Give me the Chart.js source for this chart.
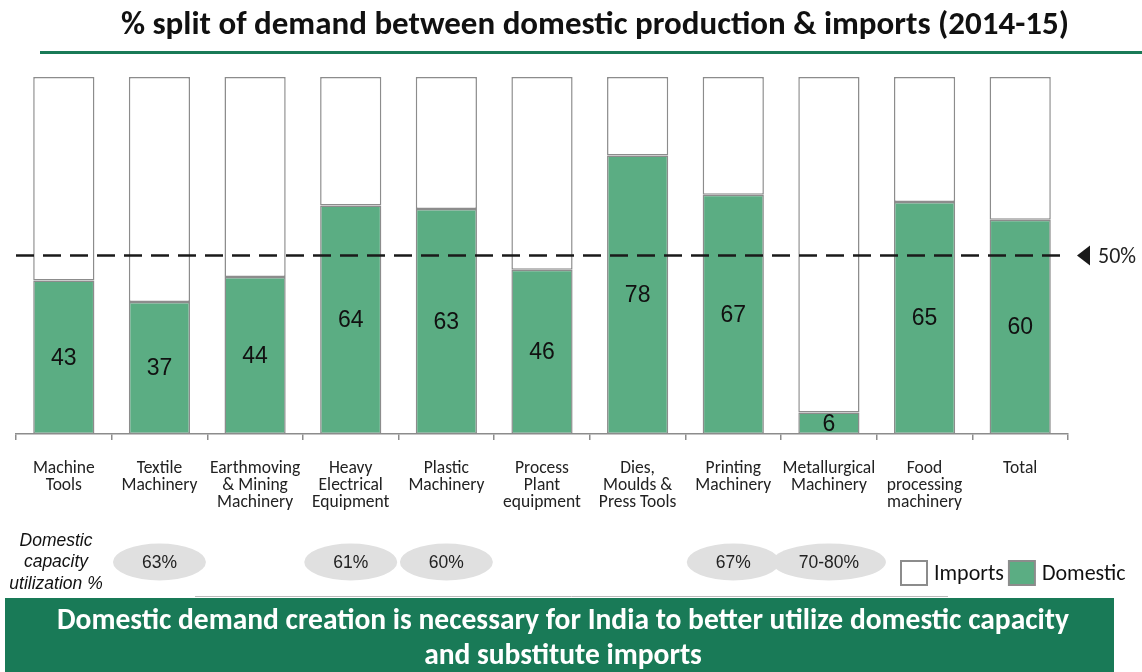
<!DOCTYPE html>
<html><head><meta charset="utf-8">
<script src="https://cdn.jsdelivr.net/npm/chart.js@4.4.1/dist/chart.umd.min.js"></script>
<style>html,body{margin:0;padding:0;background:#fff;overflow:hidden}#wrap{position:relative;width:1142px;height:672px}</style>
</head><body><div id="wrap"><canvas id="c" width="1142" height="672"></canvas></div>
<script>
const chartTitle = '% split of demand between domestic production & imports (2014-15)';
const categories = [['Machine','Tools'],['Textile','Machinery'],['Earthmoving','& Mining','Machinery'],['Heavy','Electrical','Equipment'],['Plastic','Machinery'],['Process','Plant','equipment'],['Dies,','Moulds &','Press Tools'],['Printing','Machinery'],['Metallurgical','Machinery'],['Food','processing','machinery'],['Total']];
const domestic = [43,37,44,64,63,46,78,67,6,65,60];
const imports = [57,63,56,36,37,54,22,33,94,35,40];
const capacityUtil = ['','63%','','61%','60%','','','67%','70-80%','',''];
const capacityTitle = ['Domestic','capacity','utilization %'];
const referenceValue = 50;
const referenceLabel = '50%';
const bannerLines = ['Domestic demand creation is necessary for India to better utilize domestic capacity','and substitute imports'];

const CAL = "Carlito, 'Liberation Sans Narrow', 'Open Sans', sans-serif";
const ARI = "'Liberation Sans', Arial, sans-serif";
const GREEN = '#5bad83';
const DARK = '#197a57';
const EDGE = '#8c8c8c';

const extras = {
  id: 'extras',
  afterDatasetsDraw(chart) {
    const ctx = chart.ctx, ca = chart.chartArea, ys = chart.scales.y;
    ctx.save();
    const meta = chart.getDatasetMeta(0);
    ctx.fillStyle = '#111';
    ctx.font = "23px " + ARI;
    ctx.textAlign = 'center'; ctx.textBaseline = 'middle';
    meta.data.forEach((b, i) => {
      ctx.fillText(String(domestic[i]), b.x, (b.y + b.base) / 2 + 1);
    });
    const yr = ys.getPixelForValue(referenceValue);
    ctx.strokeStyle = '#1a1a1a'; ctx.lineWidth = 2.5; ctx.setLineDash([18, 9]);
    ctx.beginPath(); ctx.moveTo(ca.left, yr); ctx.lineTo(ca.right - 3, yr); ctx.stroke();
    ctx.setLineDash([]);
    ctx.fillStyle = '#1a1a1a';
    ctx.beginPath(); ctx.moveTo(ca.right + 9, yr); ctx.lineTo(ca.right + 22, yr - 10); ctx.lineTo(ca.right + 22, yr + 10); ctx.closePath(); ctx.fill();
    ctx.fillStyle = '#222'; ctx.font = "22px " + CAL; ctx.textAlign = 'left';
    ctx.fillText(referenceLabel, ca.right + 30, yr + 2);
    ctx.restore();
  },
  afterDraw(chart) {
    const ctx = chart.ctx, xs = chart.scales.x;
    ctx.save();
    ctx.fillStyle = '#111'; ctx.font = "bold 33px " + CAL;
    ctx.textAlign = 'center'; ctx.textBaseline = 'middle';
    ctx.fillText(chartTitle, 595, 26);
    ctx.fillStyle = DARK; ctx.fillRect(40, 51, 1102, 3);
    ctx.fillStyle = '#111'; ctx.font = "italic 17.5px " + ARI;
    capacityTitle.forEach((t, i) => ctx.fillText(t, 56, 541 + i * 21.5));
    capacityUtil.forEach((t, i) => {
      if (!t) return;
      const cx = xs.getPixelForValue(i), cy = 562;
      const rx = t.length > 4 ? 57 : 46.5;
      ctx.fillStyle = '#e0e0e0';
      ctx.beginPath(); ctx.ellipse(cx, cy, rx, 18.5, 0, 0, Math.PI * 2); ctx.fill();
      ctx.fillStyle = '#222'; ctx.font = "17.5px " + ARI;
      ctx.fillText(t, cx, cy + 1);
    });
    const ds = chart.data.datasets;
    const items = [ds[1], ds[0]];
    let lx = 901;
    ctx.font = "22px " + CAL; ctx.textAlign = 'left';
    items.forEach(d => {
      ctx.fillStyle = d.backgroundColor; ctx.fillRect(lx, 561, 26, 24);
      ctx.strokeStyle = EDGE; ctx.lineWidth = 2; ctx.strokeRect(lx, 561, 26, 24);
      ctx.fillStyle = '#111'; ctx.fillText(d.label, lx + 33, 574);
      lx += 33 + ctx.measureText(d.label).width + 5;
    });
    ctx.strokeStyle = '#bbbbbb'; ctx.lineWidth = 1;
    ctx.beginPath(); ctx.moveTo(195, 596.5); ctx.lineTo(948, 596.5); ctx.stroke();
    ctx.fillStyle = DARK; ctx.fillRect(5, 598, 1109, 74);
    ctx.fillStyle = '#ffffff'; ctx.font = "bold 29.5px " + CAL; ctx.textAlign = 'center';
    ctx.fillText(bannerLines[0], 563, 622);
    ctx.fillText(bannerLines[1], 563, 657);
    ctx.restore();
  }
};

new Chart(document.getElementById('c'), {
  type: 'bar',
  data: {
    labels: categories,
    datasets: [
      { label: 'Domestic', data: domestic, backgroundColor: GREEN, borderColor: EDGE, borderWidth: 1.5, borderSkipped: false, barPercentage: 0.64, categoryPercentage: 1 },
      { label: 'Imports', data: imports, backgroundColor: '#ffffff', borderColor: EDGE, borderWidth: 1.5, borderSkipped: false, barPercentage: 0.64, categoryPercentage: 1 }
    ]
  },
  options: {
    responsive: false, animation: false, devicePixelRatio: 1,
    layout: { padding: { left: 16, right: 74, top: 77, bottom: 0 } },
    plugins: { legend: { display: false }, tooltip: { enabled: false }, title: { display: false } },
    scales: {
      x: {
        stacked: true, offset: true,
        grid: { display: true, drawOnChartArea: false, drawTicks: true, tickLength: 6, color: EDGE, lineWidth: 1.5, offset: true },
        border: { display: true, color: EDGE, width: 1.5 },
        ticks: { color: '#222', font: { family: CAL, size: 17.5, lineHeight: 0.98 }, padding: 20, maxRotation: 0, autoSkip: false },
        afterFit: s => { s.height = 238; }
      },
      y: { stacked: true, display: false, min: 0, max: 100 }
    }
  },
  plugins: [extras]
});
</script></body></html>
